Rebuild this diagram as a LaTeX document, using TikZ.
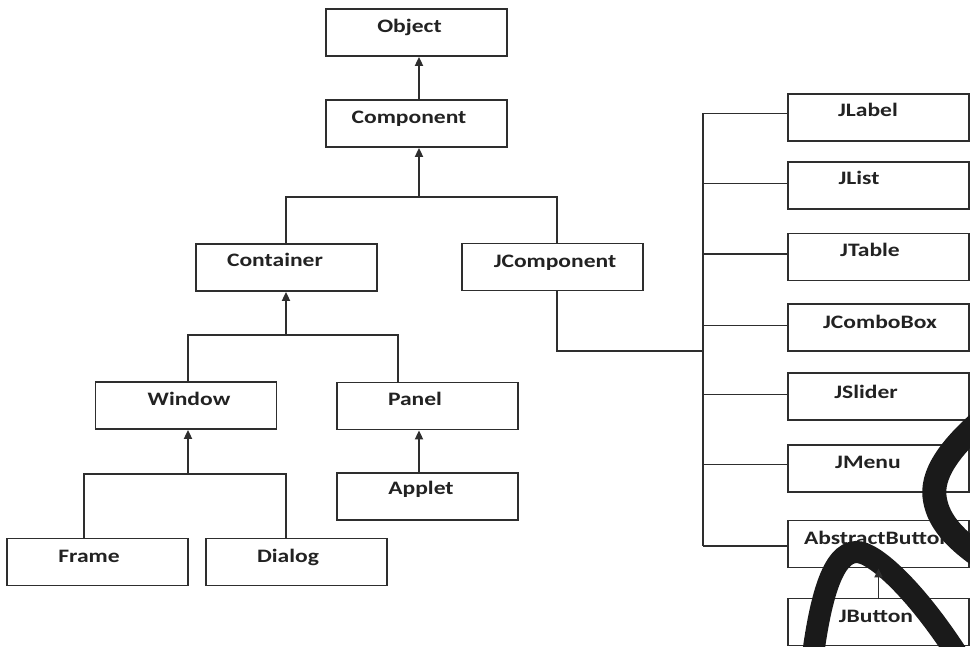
\documentclass[tikz,border=0pt]{standalone}
\usepackage{fontspec}
\newfontfamily\lblfont{Carlito}[FakeStretch=1.24]
\usetikzlibrary{arrows.meta,calc}
\definecolor{lncol}{HTML}{2E2E2E}
\definecolor{txcol}{HTML}{222222}
\definecolor{wmcol}{HTML}{1A1A1A}
\begin{document}
\begin{tikzpicture}[x=1pt,y=-1pt,
  box/.style={draw=lncol,line width=1.8pt,minimum width=181pt,minimum height=47pt,inner sep=0pt},
  lbl/.style={anchor=base,inner sep=0pt,text=txcol,font=\lblfont\bfseries\fontsize{19}{19}\selectfont},
  conn/.style={draw=lncol,line width=1.8pt},
  arr/.style={conn,-{Triangle[length=9pt,width=8pt]}}]
\useasboundingbox[fill=white] (0,0) rectangle (970,647);
% boxes
\node[box] (obj) at (416.5,32.5) {};
\node[box] (comp) at (416.5,123.5) {};
\node[box] (cont) at (286.5,267.5) {};
\node[box] (jcomp) at (552.5,267) {};
\node[box] (win) at (186,405.5) {};
\node[box] (panel) at (427.5,406) {};
\node[box] (applet) at (427.5,496.5) {};
\node[box] (frame) at (97.5,562) {};
\node[box] (dialog) at (296.5,562) {};
\node[box] (jlabel) at (878.5,117.5) {};
\node[box] (jlist) at (878.5,185.5) {};
\node[box] (jtable) at (878.5,257) {};
\node[box] (jcombo) at (878.5,327.5) {};
\node[box] (jslider) at (878.5,396.5) {};
\node[box] (jmenu) at (878.5,468.5) {};
\node[box] (abs) at (878.5,544) {};
\node[box] (jbutton) at (878.5,622) {};
% labels
\node[lbl] (tobj) at (409.5,33) {Object};
\node[lbl] (tcomp) at (409,124) {Component};
\node[lbl] (tcont) at (275,267) {Container};
\node[lbl] (tjcomp) at (555,268) {JComponent};
\node[lbl] (twin) at (189,405.5) {Window};
\node[lbl] (tpanel) at (415,405.5) {Panel};
\node[lbl] (tapplet) at (421,494) {Applet};
\node[lbl] (tframe) at (89,562) {Frame};
\node[lbl] (tdialog) at (288,562) {Dialog};
\node[lbl] (tjlabel) at (868,117) {JLabel};
\node[lbl] (tjlist) at (859,185) {JList};
\node[lbl] (tjtable) at (870,257) {JTable};
\node[lbl] (tjcombo) at (880,328) {JComboBox};
\node[lbl] (tjslider) at (866,398) {JSlider};
\node[lbl] (tjmenu) at (868,468) {JMenu};
\node[lbl] (tabs) at (878,544) {AbstractButton};
\node[lbl] (tjbutton) at (876,622) {JButton};
% junctions
\coordinate (j1) at (419,197);
\coordinate (j2) at (286,335);
\coordinate (j3) at (188,474);
\coordinate (bus) at (703,351);
\coordinate (dlx) at (286,0);
\coordinate (frx) at (84,0);
\coordinate (pnx) at (398,0);
\coordinate (jcx) at (557,0);
\coordinate (apx) at (419,0);
% left tree
\draw[arr] (comp.north -| j1) -- (obj.south -| j1);
\draw[arr] (j1) -- (comp.south -| j1);
\draw[conn] (cont.north -| j2) |- (j1) -| (jcomp.north -| jcx);
\draw[arr] (j2) -- (cont.south -| j2);
\draw[conn] (win.north -| j3) |- (j2) -| (panel.north -| pnx);
\draw[arr] (j3) -- (win.south -| j3);
\draw[conn] (frame.north -| frx) |- (j3) -| (dialog.north -| dlx);
\draw[arr] (applet.north -| apx) -- (panel.south -| apx);
% right bus
\draw[conn] (jcomp.south -| jcx) |- (bus);
\draw[conn] ([yshift=4pt]jlabel.west -| bus) -- ([yshift=-2pt]abs.west -| bus);
\draw[conn] ([yshift=4pt]jlabel.west) -- ([yshift=4pt]jlabel.west -| bus);
\draw[conn] ([yshift=2pt]jlist.west) -- ([yshift=2pt]jlist.west -| bus);
\draw[conn] ([yshift=3pt]jtable.west) -- ([yshift=3pt]jtable.west -| bus);
\draw[conn] ([yshift=2pt]jcombo.west) -- ([yshift=2pt]jcombo.west -| bus);
\draw[conn] ([yshift=2pt]jslider.west) -- ([yshift=2pt]jslider.west -| bus);
\draw[conn] ([yshift=4pt]jmenu.west) -- ([yshift=4pt]jmenu.west -| bus);
\draw[conn] ([yshift=-2pt]abs.west) -- ([yshift=-2pt]abs.west -| bus);
% watermark swoosh
\begin{scope}
\clip (0,0) rectangle (970,647);
\draw[wmcol,line width=24pt] (982,420) .. controls (950,448) and (930,475) .. (935,500)
  .. controls (939,522) and (955,540) .. (988,562);
\draw[wmcol,line width=22pt] (812,662) .. controls (820,600) and (832,553) .. (856,552)
  .. controls (874,551) and (918,592) .. (962,662);
\end{scope}
\draw[arr] (jbutton.north) -- (abs.south);
\end{tikzpicture}
\end{document}
